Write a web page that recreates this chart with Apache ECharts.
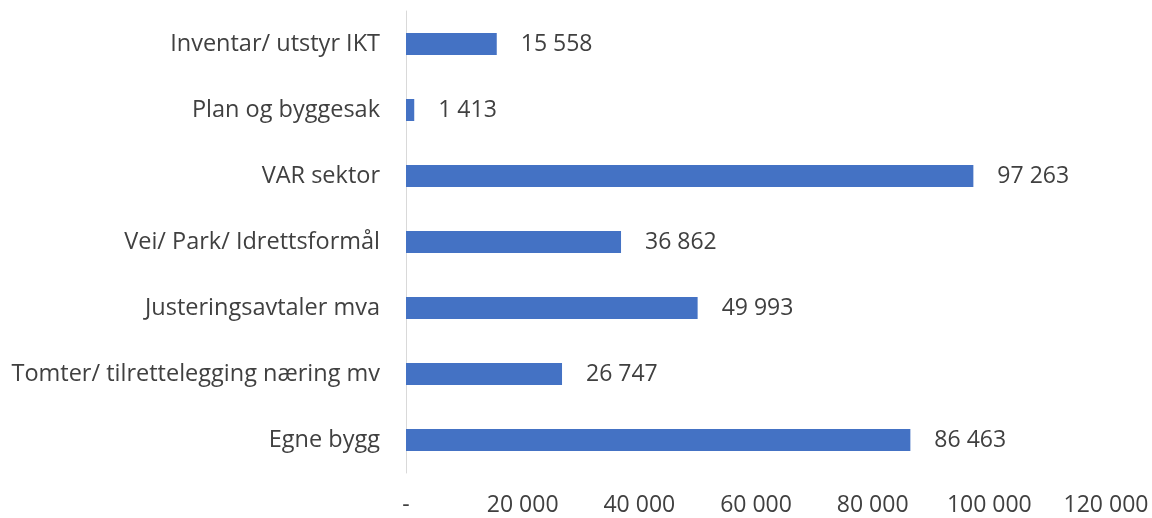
<!DOCTYPE html>
<html>
<head>
<meta charset="utf-8">
<script src="https://cdn.jsdelivr.net/npm/echarts@6/dist/echarts.min.js"></script>
<style>
html,body{margin:0;padding:0;background:#fff;}
#c{width:1152px;height:518px;}
</style>
</head>
<body>
<div id="c"></div>
<script>
const categories = [
  "Egne bygg",
  "Tomter/ tilrettelegging næring mv",
  "Justeringsavtaler mva",
  "Vei/ Park/ Idrettsformål",
  "VAR sektor",
  "Plan og byggesak",
  "Inventar/ utstyr IKT"
];
const values = [86463, 26747, 49993, 36862, 97263, 1413, 15558];
const xMax = 120000;
const xInterval = 20000;

function fmt(v) {
  if (v === 0) return "-";
  return String(Math.round(v)).replace(/\B(?=(\d{3})+(?!\d))/g, " ");
}

const FONT = 'Open Sans';
const chart = echarts.init(document.getElementById('c'), null, {renderer: 'canvas'});
chart.setOption({
  animation: false,
  backgroundColor: '#ffffff',
  grid: {left: 406, right: 46, top: 11, bottom: 45, containLabel: false},
  xAxis: {
    type: 'value',
    min: 0,
    max: xMax,
    interval: xInterval,
    axisLine: {show: false},
    axisTick: {show: false},
    splitLine: {show: false},
    axisLabel: {
      formatter: fmt,
      color: '#404040',
      fontFamily: FONT,
      fontSize: 23,
      margin: 21
    }
  },
  yAxis: {
    type: 'category',
    data: categories,
    axisLine: {show: true, lineStyle: {color: '#d9d9d9', width: 1}},
    axisTick: {show: false},
    axisLabel: {
      color: '#404040',
      fontFamily: FONT,
      fontSize: 23.5,
      margin: 26
    }
  },
  series: [{
    type: 'bar',
    data: values,
    barWidth: 22,
    itemStyle: {color: '#4472C4'},
    label: {
      show: true,
      position: 'right',
      distance: 24,
      formatter: p => fmt(p.value),
      color: '#404040',
      fontFamily: FONT,
      fontSize: 23
    }
  }]
});
</script>
</body>
</html>
